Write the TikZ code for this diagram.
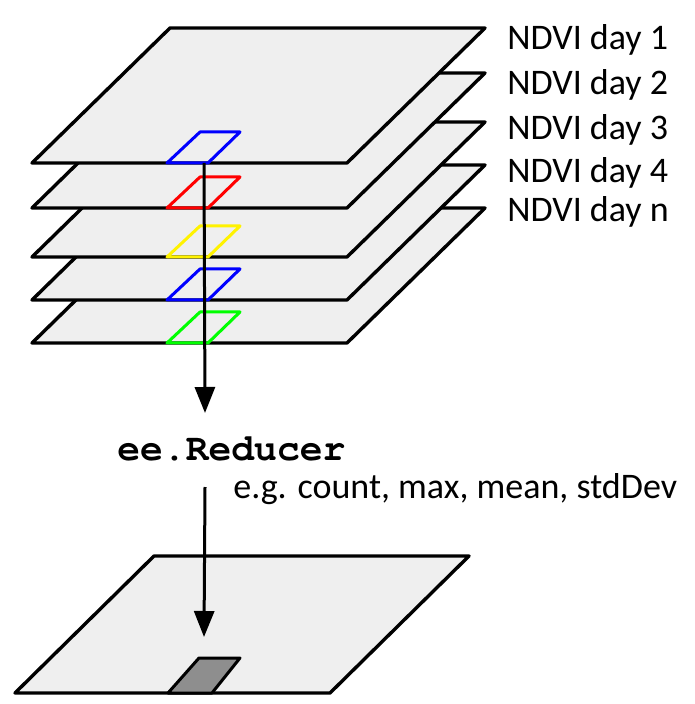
\documentclass[tikz,border=0pt]{standalone}
\usepackage[T1,TU]{fontenc}
\usepackage{fontspec}
\setmainfont{Carlito}
\usetikzlibrary{arrows.meta}
\definecolor{planegray}{HTML}{EFEFEF}
\definecolor{cellgray}{HTML}{8E8E8E}
\newcommand{\codefont}{\fontencoding{T1}\fontfamily{pcr}\fontseries{b}\selectfont}

\begin{document}
\begin{tikzpicture}[x=0.5pt,y=-0.5pt,
  plane/.style={draw=black,fill=planegray,line width=1.7pt,line join=round},
  pixel/.style={line width=1.5pt,line join=round},
  flow/.style={line width=1.5pt,-{Triangle[length=13pt,width=10pt]}},
  lbl/.style={anchor=base west,inner sep=0pt,font=\fontsize{18}{20}\selectfont}]
  \useasboundingbox (0,0) rectangle (694,704);
  % stack of layers, bottom one first
  \foreach \yb/\col in {343/green,300/blue,257/yellow,208/red,163/blue}{
    \draw[plane] (32,\yb) -- ++(315,0) -- ++(138,-135) -- ++(-315,0) -- cycle;
    \draw[pixel,draw=\col] (167,\yb) -- ++(41,0) -- ++(32,-31) -- ++(-40,0) -- cycle;
  }
  \node[lbl] (day1) at (507,50) {NDVI day 1};
  \node[lbl] (day2) at (507,95) {NDVI day 2};
  \node[lbl] (day3) at (507,140) {NDVI day 3};
  \node[lbl] (day4) at (507,183) {NDVI day 4};
  \node[lbl] (dayn) at (507,222) {NDVI day n};
  % reducer
  \node[anchor=base west,inner sep=0pt,font=\codefont\fontsize{19}{20}\selectfont] (reducer) at (117,460) {ee.Reducer};
  \node[lbl] (examples) at (233,498) {e.g. count, max, mean, stdDev};
  % result
  \draw[plane] (15,693) -- ++(315,0) -- ++(139,-137) -- ++(-315,0) -- cycle;
  \draw[pixel,draw=black,fill=cellgray] (168,693) -- ++(44,0) -- ++(28,-35) -- ++(-41,0) -- cycle;
  % arrows
  \coordinate (pick) at (204,163);
  \coordinate (into) at (205,413);
  \coordinate (from) at (205,487);
  \coordinate (out) at (204,637);
  \draw[flow] (pick) -- (into);
  \draw[flow] (from) -- (out);
\end{tikzpicture}
\end{document}
